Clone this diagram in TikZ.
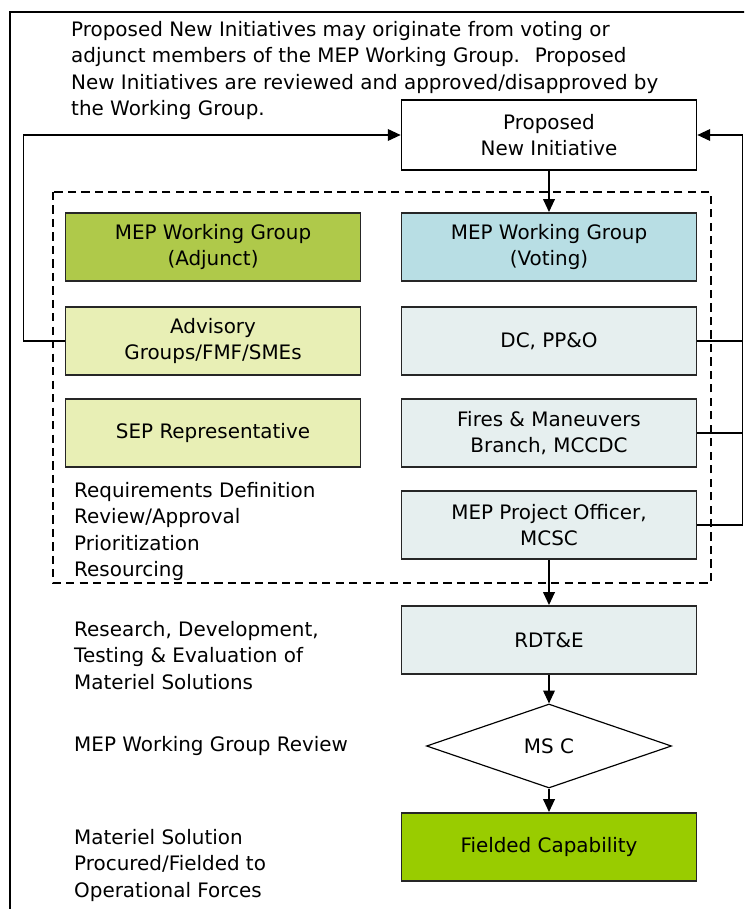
\documentclass[tikz,border=0pt]{standalone}
\usepackage{fontspec}
\setmainfont{DejaVu Sans}
\usetikzlibrary{arrows.meta,shapes.geometric}
\definecolor{adjgreen}{HTML}{AFC94A}
\definecolor{votblue}{HTML}{B8DEE4}
\definecolor{paleyel}{HTML}{E8EFB5}
\definecolor{paleblue}{HTML}{E6EFEF}
\definecolor{fieldgreen}{HTML}{99CC00}
\begin{document}
\begin{tikzpicture}[x=0.03cm, y=-0.03cm,
    font=\fontsize{17}{22.5}\selectfont,
    stage/.style={draw=black!85, line width=1.4pt, minimum width=8.85cm, minimum height=2.05cm, align=center, inner sep=0pt},
    note/.style={anchor=north west, align=left, inner sep=0pt},
    flow/.style={line width=1.2pt, -{Triangle[length=11pt,width=10pt]}},
    link/.style={line width=1.2pt}]
\clip (0,0) rectangle (744,909);
\draw[line width=1.6pt] (10,940) |- (760,12);

\node[note] (intro) at (71,21) {Proposed New Initiatives may originate from voting or\\adjunct members of the MEP Working Group.~ Proposed\\New Initiatives are reviewed and approved/disapproved by\\the Working Group.};

\node[stage, fill=white, draw=black, minimum height=2.1cm] (pni) at (549,135) {Proposed\\New Initiative};
\draw[dashed, line width=1.2pt, dash pattern=on 7pt off 4.5pt] (53,192) rectangle (711,583);

\node[stage, fill=adjgreen] (wga) at (213,247) {MEP Working Group\\(Adjunct)};
\node[stage, fill=paleyel] (adv) at (213,341) {Advisory\\Groups/FMF/SMEs};
\node[stage, fill=paleyel] (sep) at (213,433) {SEP Representative};

\node[stage, fill=votblue] (wgv) at (549,247) {MEP Working Group\\(Voting)};
\node[stage, fill=paleblue] (dcp) at (549,341) {DC, PP\&O};
\node[stage, fill=paleblue] (fmb) at (549,433) {Fires \& Maneuvers\\Branch, MCCDC};
\node[stage, fill=paleblue] (mpo) at (549,525) {MEP Project Officer,\\MCSC};
\node[stage, fill=paleblue] (rdte) at (549,640) {RDT\&E};
\node[diamond, draw, line width=1pt, minimum width=7.35cm, minimum height=2.52cm, inner sep=0pt] (msc) at (549,746) {MS C};
\node[stage, fill=fieldgreen] (fc) at (549,847) {Fielded Capability};

\node[note] (reqs) at (74,482) {Requirements Definition\\Review/Approval\\Prioritization\\Resourcing};
\node[note] (rdev) at (74,621) {Research, Development,\\Testing \& Evaluation of\\Materiel Solutions};
\node[note, anchor=west] (wgr) at (74,746) {MEP Working Group Review};
\node[note] (proc) at (74,829) {Materiel Solution\\Procured/Fielded to\\Operational Forces};

\draw[flow] (pni) -- (wgv);
\draw[flow] (mpo) -- (rdte);
\draw[flow] (rdte) -- (msc);
\draw[flow] (msc) -- (fc);

\draw[flow] (adv.west) -- ++(-41,0) |- (pni.west);
\draw[flow] (mpo.east) -- ++(45,0) |- (pni.east);
\draw[link] (dcp.east) -- ++(45,0);
\draw[link] (fmb.east) -- ++(45,0);
\end{tikzpicture}
\end{document}
